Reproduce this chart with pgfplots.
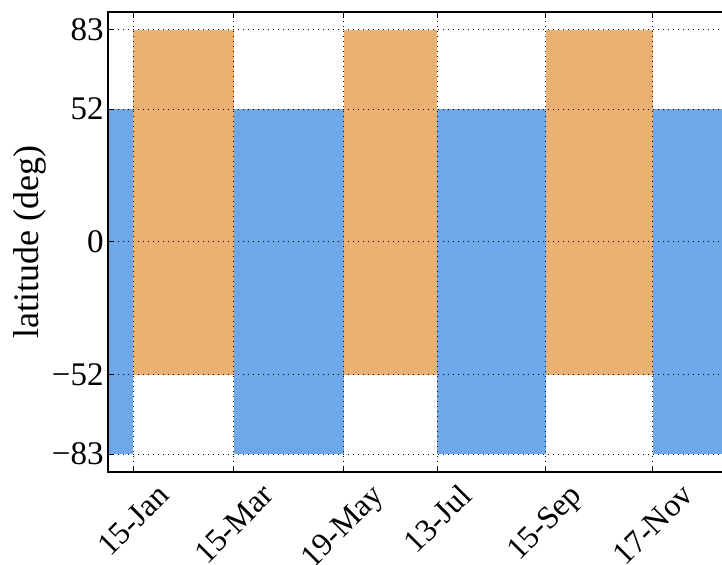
\documentclass[border=0pt]{standalone}
\usepackage{fontspec}
\setmainfont{Liberation Serif}
\usepackage{graphicx}
\usepackage{pgfplots}
\pgfplotsset{compat=1.18}
\definecolor{cblue}{RGB}{111,168,232}
\definecolor{corange}{RGB}{235,177,114}
\begin{document}
\begin{tikzpicture}
\begin{axis}[
  scale only axis,
  width=309.8pt, height=230pt,
  xmin=0, xmax=365, ymin=-90, ymax=90,
  axis on top,
  axis line style={line width=0.7pt},
  tick align=inside,
  major tick length=3pt,
  tick style={black, line width=0.5pt},
  xtick={15,74,139,194,258,321},
  xticklabels={\rotatebox{45}{15-Jan},\rotatebox{45}{15-Mar},\rotatebox{45}{19-May},\rotatebox{45}{13-Jul},\rotatebox{45}{15-Sep},\rotatebox{45}{17-Nov}},
  xticklabel style={anchor=north, font=\fontsize{16}{19}\selectfont, inner sep=0pt, yshift=-5pt},
  ytick={-83,-52,0,52,83},
  yticklabels={−83,−52,0,52,83},
  yticklabel style={font=\fontsize{16.5}{19}\selectfont, inner sep=0pt, xshift=-2pt},
  ylabel={latitude (deg)},
  every axis y label/.style={at={(axis description cs:0,0.5)}, rotate=90, anchor=center, yshift=39pt, font=\fontsize{18}{21}\selectfont},
  xmajorgrids, ymajorgrids,
  grid style={black, line width=0.5pt, dash pattern=on 0.6pt off 1.9pt},
]
\addplot[fill=cblue, draw=none] coordinates {(0,-83) (15,-83) (15,52) (0,52)} -- cycle;
\addplot[fill=cblue, draw=none] coordinates {(74,-83) (139,-83) (139,52) (74,52)} -- cycle;
\addplot[fill=cblue, draw=none] coordinates {(194,-83) (258,-83) (258,52) (194,52)} -- cycle;
\addplot[fill=cblue, draw=none] coordinates {(321,-83) (365,-83) (365,52) (321,52)} -- cycle;
\addplot[fill=corange, draw=none] coordinates {(15,-52) (74,-52) (74,83) (15,83)} -- cycle;
\addplot[fill=corange, draw=none] coordinates {(139,-52) (194,-52) (194,83) (139,83)} -- cycle;
\addplot[fill=corange, draw=none] coordinates {(258,-52) (321,-52) (321,83) (258,83)} -- cycle;
\end{axis}
\pgfresetboundingbox
\path[use as bounding box] ([shift={(-54pt,-46.5pt)}]current axis.south west) rectangle ([shift={(307pt,236pt)}]current axis.south west);
\end{tikzpicture}
\end{document}
